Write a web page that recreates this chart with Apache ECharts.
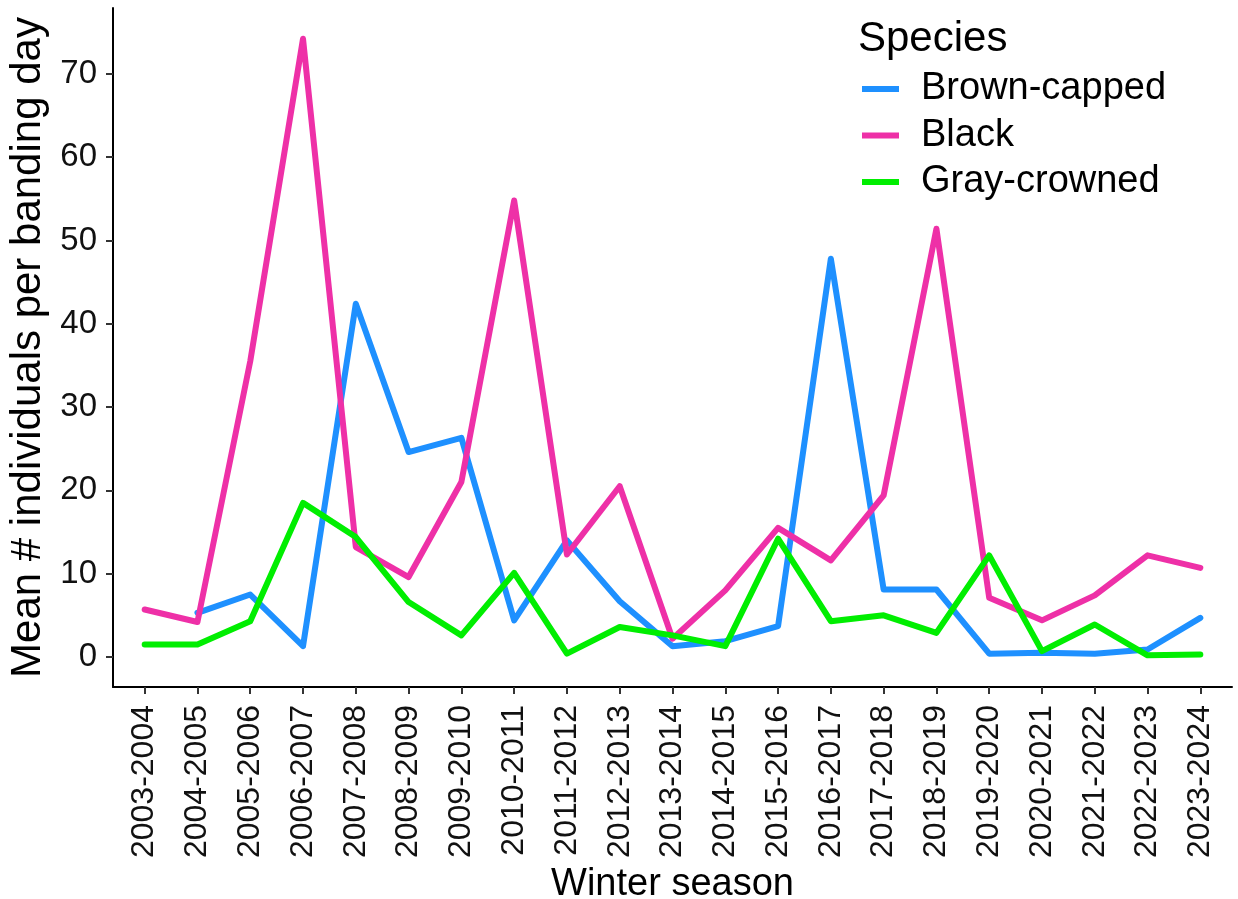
<!DOCTYPE html>
<html>
<head>
<meta charset="utf-8">
<script src="https://cdn.jsdelivr.net/npm/echarts@6/dist/echarts.min.js"></script>
<style>html,body{margin:0;padding:0;background:#fff;}#c{width:1238px;height:899px;}</style>
</head>
<body>
<div id="c"></div>
<script>
const seasons = ["2003-2004","2004-2005","2005-2006","2006-2007","2007-2008","2008-2009","2009-2010","2010-2011","2011-2012","2012-2013","2013-2014","2014-2015","2015-2016","2016-2017","2017-2018","2018-2019","2019-2020","2020-2021","2021-2022","2022-2023","2023-2024"];
const brownCapped = [null,5.3,7.5,1.3,42.4,24.6,26.3,4.4,14.0,6.7,1.3,1.9,3.7,47.8,8.1,8.1,0.4,0.5,0.4,0.9,4.7];
const black = [5.7,4.2,35.5,74.2,13.2,9.6,21.0,54.8,12.3,20.5,2.2,8.0,15.5,11.6,19.4,51.4,7.1,4.4,7.4,12.2,10.7];
const grayCrowned = [1.5,1.5,4.3,18.5,14.4,6.6,2.6,10.1,0.4,3.6,2.6,1.3,14.2,4.3,5.0,2.9,12.2,0.7,3.9,0.2,0.3];
const yTicks = [0,10,20,30,40,50,60,70];

const FONT = '"Liberation Sans", Arial, sans-serif';
const names = ["Brown-capped","Black","Gray-crowned"];
const colors = ["#1E90FF","#EE30A7","#00EE00"];
const data = [brownCapped, black, grayCrowned];
const xIdx = seasons.map((s,i)=>i);

const chart = echarts.init(document.getElementById('c'));
chart.setOption({
  animation:false,
  backgroundColor:'#fff',
  title:{text:'Species', left:853, top:13, textStyle:{fontFamily:FONT,fontSize:42,fontWeight:'normal',color:'#000'}},
  legend:{
    orient:'vertical', left:857, top:65,
    icon:'rect', itemWidth:37, itemHeight:6, itemGap:8.5,
    data:names,
    textStyle:{fontFamily:FONT,fontSize:38,color:'#000',lineHeight:38,padding:[0,0,0,17]}
  },
  grid:{left:113, right:6, top:8, bottom:212, containLabel:false, outerBoundsMode:'none'},
  xAxis:{
    type:'value', min:-0.6, max:20.6,
    name:'Winter season', nameLocation:'middle', nameGap:164,
    nameTextStyle:{fontFamily:FONT,fontSize:38,color:'#000'},
    axisLine:{show:true,onZero:false,lineStyle:{color:'#000',width:2}},
    axisTick:{show:true,length:7,lineStyle:{color:'#333',width:2},customValues:xIdx},
    axisLabel:{customValues:xIdx, rotate:90, margin:18, fontFamily:FONT, fontSize:32, color:'#111',
      formatter:v=>seasons[Math.round(v)]},
    splitLine:{show:false}
  },
  yAxis:{
    type:'value', min:-3.6, max:77.9,
    name:'Mean # individuals per banding day', nameLocation:'middle', nameGap:54,
    nameTextStyle:{fontFamily:FONT,fontSize:42,color:'#000'},
    axisLine:{show:true,onZero:false,lineStyle:{color:'#000',width:2}},
    axisTick:{show:true,length:7,lineStyle:{color:'#333',width:2},customValues:yTicks},
    axisLabel:{customValues:yTicks, margin:16, fontFamily:FONT, fontSize:33, color:'#111'},
    splitLine:{show:false}
  },
  series:data.map((d,k)=>({
    name:names[k], type:'line', showSymbol:false, symbol:'none',
    data:d.map((v,i)=>[i,v]),
    lineStyle:{color:colors[k],width:6,cap:'round',join:'round'},
    itemStyle:{color:colors[k]},
    connectNulls:false
  }))
});
</script>
</body>
</html>
